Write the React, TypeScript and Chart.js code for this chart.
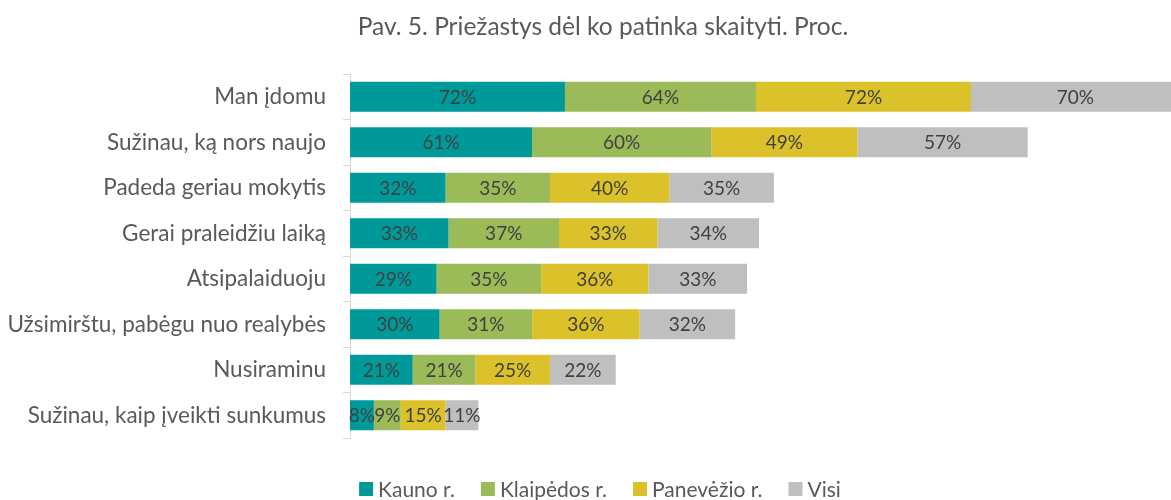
import React, { useEffect, useRef } from "react";
import { Chart, registerables } from "chart.js";

Chart.register(...registerables);

const TITLE = "Pav. 5. Priežastys dėl ko patinka skaityti. Proc.";
const categories = [
  "Man įdomu",
  "Sužinau, ką nors naujo",
  "Padeda geriau mokytis",
  "Gerai praleidžiu laiką",
  "Atsipalaiduoju",
  "Užsimirštu, pabėgu nuo realybės",
  "Nusiraminu",
  "Sužinau, kaip įveikti sunkumus",
];
const seriesNames = ["Kauno r.", "Klaipėdos r.", "Panevėžio r.", "Visi"];
const kauno = [72, 61, 32, 33, 29, 30, 21, 8];
const klaipedos = [64, 60, 35, 37, 35, 31, 21, 9];
const panevezio = [72, 49, 40, 33, 36, 36, 25, 15];
const visi = [70, 57, 35, 34, 33, 32, 22, 11];
const colors = ["#009999", "#9BBB59", "#DBC22B", "#BFBFBF"];

const FONT = "Lato, 'Open Sans', sans-serif";

const labelsPlugin = {
  id: "customLabels",
  afterDatasetsDraw(chart: any) {
    const ctx = chart.ctx;
    ctx.save();
    ctx.font = `19px ${FONT}`;
    ctx.fillStyle = "#404040";
    ctx.textAlign = "center";
    ctx.textBaseline = "middle";
    chart.data.datasets.forEach((ds: any, di: number) => {
      const meta = chart.getDatasetMeta(di);
      meta.data.forEach((el: any, i: number) => {
        const x = (el.x + el.base) / 2;
        ctx.fillText(`${ds.data[i]}%`, x, el.y + 1);
      });
    });
    ctx.restore();
  },
  afterDraw(chart: any) {
    const ctx = chart.ctx;
    ctx.save();
    // title
    ctx.font = `24.5px ${FONT}`;
    ctx.fillStyle = "#595959";
    ctx.textAlign = "center";
    ctx.textBaseline = "middle";
    ctx.fillText(TITLE, 603, 27);
    // legend
    ctx.font = `21px ${FONT}`;
    ctx.textAlign = "left";
    const box = 14;
    const gapText = 5;
    const gapItem = 26;
    const items = chart.data.datasets.map((ds: any) => ({
      label: ds.label,
      color: ds.backgroundColor,
      w: ctx.measureText(ds.label).width,
    }));
    const total =
      items.reduce((s: number, it: any) => s + box + gapText + it.w, 0) +
      gapItem * (items.length - 1);
    let x = 600 - total / 2;
    const cy = 489;
    items.forEach((it: any) => {
      ctx.fillStyle = it.color;
      ctx.fillRect(x, cy - box / 2, box, box);
      ctx.fillStyle = "#595959";
      ctx.fillText(it.label, x + box + gapText, cy + 1);
      x += box + gapText + it.w + gapItem;
    });
    ctx.restore();
  },
};

export default function App() {
  const ref = useRef<HTMLCanvasElement>(null);
  useEffect(() => {
    if (!ref.current) return;
    const values = [kauno, klaipedos, panevezio, visi];
    const chart = new Chart(ref.current, {
      type: "bar",
      data: {
        labels: categories,
        datasets: seriesNames.map((name, i) => ({
          label: name,
          data: values[i],
          backgroundColor: colors[i],
          borderWidth: 0,
          barPercentage: 1,
          categoryPercentage: 0.66,
        })),
      },
      options: {
        indexAxis: "y",
        responsive: false,
        animation: false,
        devicePixelRatio: 1,
        layout: { padding: { top: 74, bottom: 62, left: 0, right: 0 } },
        plugins: {
          legend: { display: false },
          title: { display: false },
          tooltip: { enabled: false },
        },
        scales: {
          x: {
            stacked: true,
            display: false,
            min: 0,
            max: 275,
          },
          y: {
            stacked: true,
            offset: true,
            grid: {
              display: true,
              drawOnChartArea: false,
              drawTicks: true,
              tickLength: 7,
              color: "#D9D9D9",
              offset: true,
            },
            border: { display: true, color: "#D9D9D9", width: 1 },
            ticks: {
              padding: 17,
              color: "#595959",
              font: { family: FONT, size: 22.5 },
            },
            afterFit(scale: any) {
              scale.width = 350;
            },
          },
        },
      },
      plugins: [labelsPlugin],
    } as any);
    return () => chart.destroy();
  }, []);
  return (
    <div style={{ position: "absolute", left: 0, top: 0, width: 1171, height: 500, background: "#fff" }}>
      <canvas ref={ref} width={1171} height={500} />
    </div>
  );
}
